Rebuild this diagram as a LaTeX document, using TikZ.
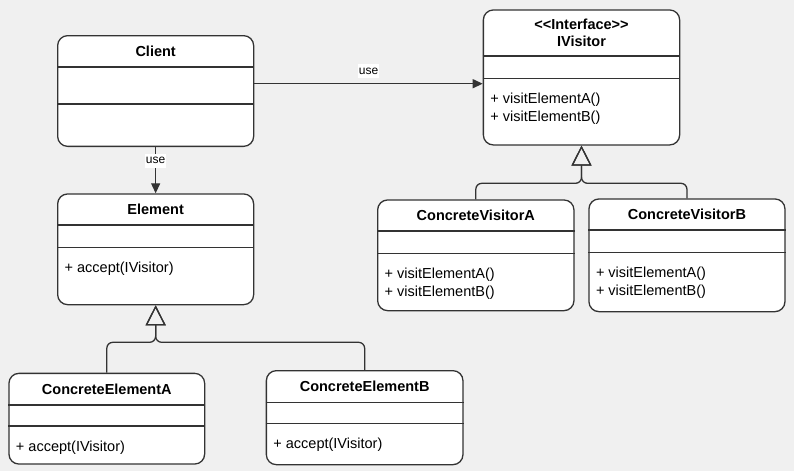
\documentclass[tikz,border=0pt]{standalone}
\usepackage{fontspec}
\setmainfont{Liberation Sans}
\usetikzlibrary{arrows.meta}

\definecolor{canvas}{HTML}{F0F0F0}
\definecolor{umlline}{HTML}{333333}

\tikzset{
	classbox/.style={draw=umlline,fill=white,line width=1.3pt,rounded corners=10pt,inner sep=0pt},
	classtitle/.style={font=\bfseries\fontsize{14.5}{17}\selectfont,align=center,inner sep=0pt},
	classops/.style={font=\fontsize{14.5}{17.3}\selectfont,align=left,inner sep=0pt,anchor=north west},
	divider/.style={draw=umlline,line width=1.3pt},
	usearrow/.style={-{Triangle[length=10pt,width=9pt]},draw=umlline,line width=1.3pt},
	inheritarrow/.style={-{Triangle[open,length=20pt,width=20pt]},draw=umlline,line width=1.3pt,rounded corners=6pt},
	uselabel/.style={fill=white,font=\fontsize{12}{14}\selectfont,inner sep=1pt,text height=9pt,text depth=3pt}
}

\newcommand\umlclass[8]{%
	\node[classbox,anchor=north west,minimum width=#3pt,minimum height=#4pt] (#1) at (#2) {};
	\node[classtitle] (#1-title) at ([yshift=-#6*0.5pt]#1.north) {#5};
	\draw[divider] ([yshift=-#6pt]#1.north west) -- ([yshift=-#6pt]#1.north east);
	\draw[divider] ([yshift=-#7pt]#1.north west) -- ([yshift=-#7pt]#1.north east);
	\node[classops] (#1-ops) at ([xshift=7.5pt,yshift=-#7pt-14.7pt]#1.north west) {#8};
}

\begin{document}
\begin{tikzpicture}[x=1pt,y=-1pt]
	\fill[canvas] (0,0) rectangle (794,471);
	\useasboundingbox (0,0) rectangle (794,471);

	\umlclass{client}{57,35}{196}{110.7}{Client}{32}{69}{}
	\umlclass{element}{57,193.3}{196}{110.7}{Element}{31.7}{54}{+ accept(IVisitor)}
	\umlclass{visitor}{482.7,9.3}{196.3}{135}{<\kern0pt<Interface>\kern0pt>\\IVisitor}{46.7}{69}{+ visitElementA()\\+ visitElementB()}
	\umlclass{cva}{377,199.3}{196.3}{110.7}{ConcreteVisitorA}{31.7}{54}{+ visitElementA()\\+ visitElementB()}
	\umlclass{cvb}{588.3,198.3}{196}{112.7}{ConcreteVisitorB}{31.7}{54}{+ visitElementA()\\+ visitElementB()}
	\umlclass{cea}{8.3,372.7}{195.7}{90.7}{ConcreteElementA}{32.3}{53.3}{+ accept(IVisitor)}
	\umlclass{ceb}{265.7,370}{196.6}{94}{ConcreteElementB}{32.3}{53.3}{+ accept(IVisitor)}

	\coordinate (vjoin) at (visitor.south |- 0,183.3);
	\coordinate (ejoin) at (element.south |- 0,342.3);

	\draw[usearrow] (client) -- node[uselabel,pos=0.3] (use1) {use} (element);
	\draw[usearrow] ([yshift=7.3pt]client.east) -- node[uselabel,above=5pt] (use2) {use} ([yshift=7.3pt]client.east -| visitor.west);
	\draw[inheritarrow] (cva.north) |- (vjoin) -- (visitor.south);
	\draw[inheritarrow] (cvb.north) |- (vjoin) -- (visitor.south);
	\draw[inheritarrow] (cea.north) |- (ejoin) -- (element.south);
	\draw[inheritarrow] (ceb.north) |- (ejoin) -- (element.south);
\end{tikzpicture}
\end{document}
